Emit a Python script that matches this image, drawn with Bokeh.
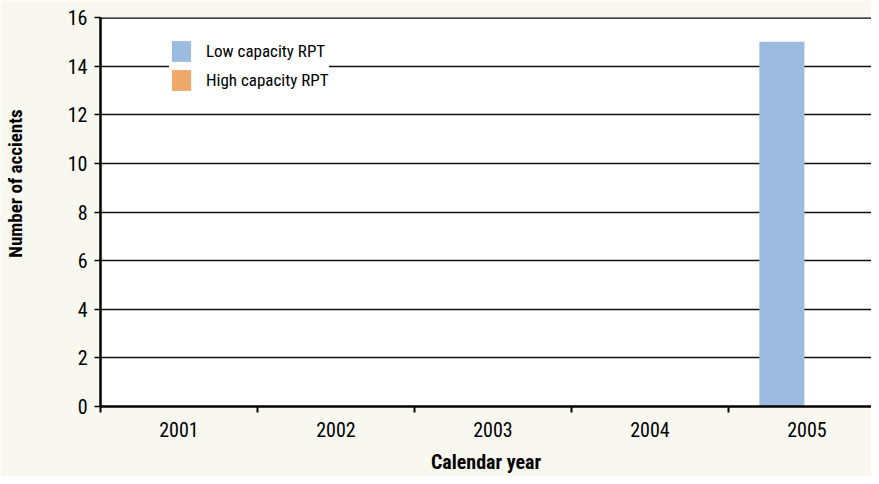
from bokeh.plotting import figure
from bokeh.models import ColumnDataSource, FixedTicker, Span, Legend, LegendItem
from bokeh.transform import dodge
from bokeh.embed import file_html
from bokeh.resources import INLINE

years = ["2001", "2002", "2003", "2004", "2005"]
low_capacity = [0, 0, 0, 0, 15]
high_capacity = [0, 0, 0, 0, 0]
y_ticks = [0, 2, 4, 6, 8, 10, 12, 14, 16]

FONT = "Roboto Condensed, Liberation Sans Narrow, Roboto, sans-serif"
BG = "#f8f7f0"

W, H = 871, 476
FL, FT, FB = 100, 17, 407
CAT = 157

pos = [i + 1 for i in range(len(years))]
src = ColumnDataSource(dict(x=pos, low=low_capacity, high=high_capacity))

p = figure(width=W, height=H, output_backend="svg", toolbar_location=None,
           x_range=(0.5, 0.5 + (W - FL) / CAT), y_range=(0, 16),
           min_border_left=FL, min_border_right=0, min_border_top=FT,
           min_border_bottom=H - FB)
p.background_fill_color = "white"
p.border_fill_color = BG
p.outline_line_color = None

r_low = p.vbar(x=dodge("x", -0.16, range=p.x_range), top="low", width=0.287, source=src,
               fill_color="#9dbae0", line_color=None)
r_high = p.vbar(x=dodge("x", 0.16, range=p.x_range), top="high", width=0.287, source=src,
                fill_color="#eea96a", line_color=None)

# x axis
p.xaxis.ticker = FixedTicker(ticks=pos, minor_ticks=[i + 0.5 for i in range(len(years) + 1)])
p.xaxis.major_label_overrides = {i + 1: y for i, y in enumerate(years)}
p.xaxis.major_tick_out = 0
p.xaxis.major_tick_in = 0
p.xaxis.minor_tick_out = 6
p.xaxis.minor_tick_in = 0
p.xaxis.minor_tick_line_width = 2
p.xaxis.minor_tick_line_color = "black"
p.xaxis.axis_line_width = 2.5
p.xaxis.axis_line_color = "black"
p.xaxis.major_label_standoff = 9
p.xaxis.major_label_text_font = FONT
p.xaxis.major_label_text_font_size = "20px"
p.xaxis.major_label_text_color = "black"
p.xaxis.axis_label = "Calendar year"
p.xaxis.axis_label_text_font = FONT
p.xaxis.axis_label_text_font_style = "bold"
p.xaxis.axis_label_text_font_size = "20px"
p.xaxis.axis_label_text_color = "black"
p.xaxis.axis_label_standoff = 10
p.xgrid.grid_line_color = None

# y axis
p.yaxis.ticker = FixedTicker(ticks=y_ticks, minor_ticks=[])
p.yaxis.major_tick_out = 6
p.yaxis.major_tick_in = 0
p.yaxis.major_tick_line_width = 1.5
p.yaxis.major_tick_line_color = "black"
p.yaxis.axis_line_width = 2.5
p.yaxis.axis_line_color = "black"
p.yaxis.major_label_standoff = 7
p.yaxis.major_label_text_font = FONT
p.yaxis.major_label_text_font_size = "20px"
p.yaxis.major_label_text_color = "black"
p.yaxis.axis_label = "\u00a0" * 13 + "Number of accients"
p.yaxis.axis_label_text_font = FONT
p.yaxis.axis_label_text_font_style = "bold"
p.yaxis.axis_label_text_font_size = "19px"
p.yaxis.axis_label_text_color = "black"
p.yaxis.axis_label_standoff = 38
p.ygrid.ticker = FixedTicker(ticks=y_ticks[1:-1])
p.ygrid.grid_line_color = "#111111"
p.ygrid.grid_line_width = 1.3

top = Span(location=16, dimension="width", line_color="black", line_width=2.5)
p.add_layout(top)

PAD = 17
legend = Legend(items=[LegendItem(label="Low capacity RPT", renderers=[r_low]),
                       LegendItem(label="High capacity RPT", renderers=[r_high])],
                location=(152 + PAD - FL, FB - (111 - PAD)))
legend.glyph_width = 24
legend.glyph_height = 26
legend.label_standoff = 13
legend.spacing = 3
legend.padding = PAD
legend.margin = 0
legend.border_line_color = None
legend.background_fill_color = "white"
legend.background_fill_alpha = 1
legend.label_text_font = FONT
legend.label_text_font_size = "17px"
legend.label_text_color = "black"
p.add_layout(legend)

open("out.html", "w").write(file_html(p, INLINE))
